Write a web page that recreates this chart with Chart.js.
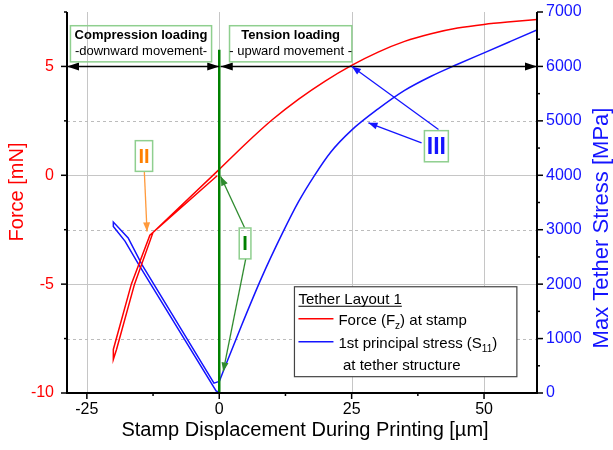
<!DOCTYPE html>
<html>
<head>
<meta charset="utf-8">
<script src="https://cdn.jsdelivr.net/npm/chart.js@4.4.0/dist/chart.umd.min.js"></script>
<style>
  body { margin: 0; background: #fff; }
  canvas { display: block; }
</style>
</head>
<body>
<canvas id="canvas" width="613" height="450" style="width:613px;height:450px"></canvas>
<script>
// force at stamp [mN] - compression loop (down and back), then tension branch
var forceLoopX = [-0.4, -13.1, -16.6, -20, -20, -19.4, -16.0, -12.5, 0];
var forceLoopY = [-0.02, -2.75, -5, -8.0, -8.46, -8.0, -5, -2.62, 0.27];
var forceTailX = [0, 5, 10, 15, 20, 25, 30, 35, 40, 45, 50, 55, 60];
var forceTailY = [0.27, 1.45, 2.55, 3.5, 4.33, 5.05, 5.66, 6.15, 6.5, 6.76, 6.93, 7.05, 7.15];

// max tether stress [MPa]
var stressLoopX = [0, -0.6, -15.2, -17.8, -20, -20, -17.2, -14.6, -1.0, 0];
var stressLoopY = [10, 40, 2360, 2790, 3060, 3140, 2850, 2360, 180, 213];
var stressTailX = [0, 4, 8, 12, 15, 18, 21, 25, 30, 35, 40, 45, 50, 55, 60];
var stressTailY = [213, 1190, 2120, 2950, 3520, 4000, 4420, 4830, 5220, 5560, 5820, 6040, 6250, 6460, 6670];

// axis ticks
var xMajorTicks = [-25, 0, 25, 50];
var xMinorTicks = [-12.5, 12.5, 37.5];
var forceMajorTicks = [-10, -5, 0, 5];
var forceMinorTicks = [-7.5, -2.5, 2.5, 7.5];
var stressMajorTicks = [0, 1000, 2000, 3000, 4000, 5000, 6000, 7000];
var stressMinorTicks = [500, 1500, 2500, 3500, 4500, 5500, 6500];

var RED = '#ff0000';
var BLUE = '#1414ff';
var GREEN = '#008000';
var FONT = '"Liberation Sans", Arial, sans-serif';

function pts(xs, ys) {
  return xs.map(function(x, i) { return { x: x, y: ys[i] }; });
}

function setTicks(list) {
  return function(scale) {
    scale.ticks = list.map(function(v) { return { value: v }; });
  };
}

// fixed axis band sizes, no extra room for label overhang
function fixSize(w, h) {
  return function(s) {
    if (w) s.width = w;
    if (h) s.height = h;
    s.paddingTop = 0; s.paddingBottom = 0;
    s.paddingLeft = 0; s.paddingRight = 0;
  };
}

function arrowHead(ctx, x1, y1, x2, y2, len, half, color) {
  var a = Math.atan2(y2 - y1, x2 - x1);
  var bx = x2 - len * Math.cos(a), by = y2 - len * Math.sin(a);
  ctx.beginPath();
  ctx.moveTo(x2, y2);
  ctx.lineTo(bx + half * Math.sin(a), by - half * Math.cos(a));
  ctx.lineTo(bx - half * Math.sin(a), by + half * Math.cos(a));
  ctx.closePath();
  ctx.fillStyle = color;
  ctx.fill();
}

function arrow(ctx, x1, y1, x2, y2, color, width, len, half, both) {
  ctx.strokeStyle = color;
  ctx.lineWidth = width;
  ctx.beginPath();
  ctx.moveTo(x1, y1);
  ctx.lineTo(x2, y2);
  ctx.stroke();
  arrowHead(ctx, x1, y1, x2, y2, len, half, color);
  if (both) arrowHead(ctx, x2, y2, x1, y1, len, half, color);
}

function richText(ctx, x, y, parts, size) {
  // parts: [text, isSub]
  var cx = x;
  parts.forEach(function(p) {
    ctx.font = (p[1] ? Math.round(size * 0.65) : size) + 'px ' + FONT;
    ctx.fillText(p[0], cx, p[1] ? y + 4 : y);
    cx += ctx.measureText(p[0]).width;
  });
}

function drawGrid(chart) {
  var ctx = chart.ctx, a = chart.chartArea, sx = chart.scales.x, sy = chart.scales.y;
  ctx.save();
  ctx.lineWidth = 1;
  ctx.strokeStyle = '#c6c6c6';
  xMajorTicks.forEach(function(v) {
    var p = Math.round(sx.getPixelForValue(v)) + 0.5;
    ctx.beginPath(); ctx.moveTo(p, a.top); ctx.lineTo(p, a.bottom); ctx.stroke();
  });
  forceMajorTicks.forEach(function(v) {
    if (v <= sy.min) return;
    var p = Math.round(sy.getPixelForValue(v)) + 0.5;
    ctx.beginPath(); ctx.moveTo(a.left, p); ctx.lineTo(a.right, p); ctx.stroke();
  });
  ctx.setLineDash([3, 3]);
  ctx.strokeStyle = '#bcbcbc';
  forceMinorTicks.forEach(function(v) {
    if (v >= sy.max) return;
    var p = Math.round(sy.getPixelForValue(v)) + 0.5;
    ctx.beginPath(); ctx.moveTo(a.left, p); ctx.lineTo(a.right, p); ctx.stroke();
  });
  ctx.restore();
}

function drawAxes(chart) {
  var ctx = chart.ctx, a = chart.chartArea;
  var sx = chart.scales.x, sy = chart.scales.y, s1 = chart.scales.y1;
  ctx.save();
  ctx.strokeStyle = '#000';
  ctx.lineWidth = 2;
  ctx.beginPath();
  ctx.moveTo(a.left, a.top);
  ctx.lineTo(a.left, a.bottom);
  ctx.lineTo(a.right, a.bottom);
  ctx.lineTo(a.right, a.top);
  ctx.stroke();
  ctx.lineWidth = 1.5;
  function tick(x1, y1, x2, y2) {
    ctx.beginPath(); ctx.moveTo(x1, y1); ctx.lineTo(x2, y2); ctx.stroke();
  }
  xMajorTicks.forEach(function(v) { var p = sx.getPixelForValue(v); tick(p, a.bottom, p, a.bottom + 6); });
  xMinorTicks.forEach(function(v) { var p = sx.getPixelForValue(v); tick(p, a.bottom, p, a.bottom + 3); });
  forceMajorTicks.forEach(function(v) { var p = sy.getPixelForValue(v); tick(a.left, p, a.left - 6, p); });
  forceMinorTicks.forEach(function(v) { var p = sy.getPixelForValue(v); tick(a.left, p, a.left - 3, p); });
  stressMajorTicks.forEach(function(v) { var p = s1.getPixelForValue(v); tick(a.right, p, a.right + 6, p); });
  stressMinorTicks.forEach(function(v) { var p = s1.getPixelForValue(v); tick(a.right, p, a.right + 3, p); });
  ctx.restore();
}

function drawNotes(chart) {
  var ctx = chart.ctx, a = chart.chartArea, sx = chart.scales.x, sy = chart.scales.y;
  function X(v) { return sx.getPixelForValue(v); }
  function Y(v) { return sy.getPixelForValue(v); }
  ctx.save();

  // stamp turning point
  ctx.strokeStyle = GREEN;
  ctx.lineWidth = 2.5;
  ctx.beginPath();
  ctx.moveTo(X(0), a.bottom);
  ctx.lineTo(X(0), Y(5.77));
  ctx.stroke();

  // movement arrows at 5 mN
  arrow(ctx, a.left, Y(5), X(0), Y(5), '#000', 1.5, 12, 4, true);
  arrow(ctx, X(0) + 1.5, Y(5), a.right, Y(5), '#000', 1.5, 12, 4, true);

  // text boxes
  function box(x0, x1, y0, y1) {
    ctx.strokeStyle = '#8fcf8f';
    ctx.lineWidth = 1.5;
    ctx.strokeRect(X(x0), Y(y0), X(x1) - X(x0), Y(y1) - Y(y0));
  }
  ctx.textAlign = 'center';
  ctx.textBaseline = 'middle';

  box(-28.1, -1.45, 6.87, 5.21);
  ctx.fillStyle = '#000';
  ctx.font = 'bold 13px ' + FONT;
  ctx.fillText('Compression loading', (X(-28.1) + X(-1.45)) / 2, Y(6.41));
  ctx.font = '13px ' + FONT;
  ctx.fillText('-downward movement-', (X(-28.1) + X(-1.45)) / 2, Y(5.67));

  box(1.94, 25.04, 6.87, 5.21);
  ctx.fillStyle = '#000';
  ctx.font = 'bold 13px ' + FONT;
  ctx.fillText('Tension loading', (X(1.94) + X(25.04)) / 2, Y(6.41));
  ctx.font = '13px ' + FONT;
  ctx.fillText('- upward movement -', (X(1.94) + X(25.04)) / 2, Y(5.67));

  // II
  arrow(ctx, X(-14.15), Y(0.18), X(-13.64), Y(-2.58), '#ff9a3c', 1.3, 9, 3.5, false);
  box(-15.85, -12.58, 1.59, 0.18);
  ctx.fillStyle = '#ff8000';
  ctx.font = 'bold 20px ' + FONT;
  ctx.fillText('II', (X(-15.85) + X(-12.58)) / 2, (Y(1.59) + Y(0.18)) / 2 + 1);

  // I
  arrow(ctx, X(4.81), Y(-2.42), X(0.28), Y(-0.06), '#2e8b2e', 1.3, 9, 3.5, false);
  arrow(ctx, X(5.0), Y(-3.84), X(0.75), Y(-9.01), '#2e8b2e', 1.3, 9, 3.5, false);
  box(3.77, 5.98, -2.42, -3.84);
  ctx.fillStyle = GREEN;
  ctx.font = 'bold 20px ' + FONT;
  ctx.fillText('I', (X(3.77) + X(5.98)) / 2, (Y(-2.42) + Y(-3.84)) / 2 + 1);

  // III
  arrow(ctx, X(41.4), Y(2.1), X(25.04), Y(5.0), BLUE, 1.3, 9, 3.5, false);
  arrow(ctx, X(38.2), Y(1.49), X(28.17), Y(2.41), BLUE, 1.3, 9, 3.5, false);
  box(38.74, 43.26, 2.05, 0.62);
  ctx.fillStyle = BLUE;
  ctx.font = 'bold 23px ' + FONT;
  ctx.fillText('III', (X(38.74) + X(43.26)) / 2, (Y(2.05) + Y(0.62)) / 2 + 1);

  ctx.restore();
}

function drawKey(chart) {
  var ctx = chart.ctx, sx = chart.scales.x, sy = chart.scales.y;
  var lx = sx.getPixelForValue(14.2), ly = sy.getPixelForValue(-5.12);
  var rx = sx.getPixelForValue(56.2), ry = sy.getPixelForValue(-9.25);
  ctx.save();
  ctx.fillStyle = '#fff';
  ctx.fillRect(lx, ly, rx - lx, ry - ly);
  ctx.strokeStyle = '#444';
  ctx.lineWidth = 1.2;
  ctx.strokeRect(lx, ly, rx - lx, ry - ly);

  ctx.fillStyle = '#000';
  ctx.textAlign = 'left';
  ctx.textBaseline = 'alphabetic';
  ctx.font = '15px ' + FONT;
  ctx.fillText('Tether Layout 1', lx + 4, ly + 17);
  var tw = ctx.measureText('Tether Layout 1').width;
  ctx.strokeStyle = '#000';
  ctx.lineWidth = 1;
  ctx.beginPath();
  ctx.moveTo(lx + 4, ly + 19.5);
  ctx.lineTo(lx + 4 + tw, ly + 19.5);
  ctx.stroke();

  ctx.lineWidth = 1.5;
  ctx.strokeStyle = RED;
  ctx.beginPath(); ctx.moveTo(lx + 4, ly + 32); ctx.lineTo(lx + 39, ly + 32); ctx.stroke();
  ctx.strokeStyle = BLUE;
  ctx.beginPath(); ctx.moveTo(lx + 4, ly + 55); ctx.lineTo(lx + 39, ly + 55); ctx.stroke();

  ctx.fillStyle = '#000';
  richText(ctx, lx + 44, ly + 38, [['Force (F', false], ['z', true], [') at stamp', false]], 15);
  richText(ctx, lx + 44, ly + 61, [['1st principal stress (S', false], ['11', true], [')', false]], 15);
  richText(ctx, lx + 48.5, ly + 83.5, [['at tether structure', false]], 15);
  ctx.restore();
}

function drawTitles(chart) {
  var ctx = chart.ctx;
  ctx.save();
  ctx.textAlign = 'center';
  ctx.textBaseline = 'middle';

  ctx.font = '20px ' + FONT;
  ctx.fillStyle = RED;
  ctx.save(); ctx.translate(17, 192); ctx.rotate(-Math.PI / 2);
  ctx.fillText('Force [mN]', 0, 0); ctx.restore();

  ctx.font = '22px ' + FONT;
  ctx.fillStyle = BLUE;
  ctx.save(); ctx.translate(602, 228); ctx.rotate(-Math.PI / 2);
  ctx.fillText('Max Tether Stress [MPa]', 0, 0); ctx.restore();

  ctx.font = '20px ' + FONT;
  ctx.fillStyle = '#000';
  ctx.fillText('Stamp Displacement During Printing [\u00b5m]', 305, 430);
  ctx.restore();
}

var sketchPlugin = {
  id: 'sketch',
  beforeDatasetsDraw: function(chart) { drawGrid(chart); },
  afterDatasetsDraw: function(chart) {
    drawNotes(chart);
    drawKey(chart);
    drawAxes(chart);
    drawTitles(chart);
  }
};

function line(data, color, axis, smooth) {
  return {
    data: data,
    yAxisID: axis,
    showLine: true,
    borderColor: color,
    backgroundColor: color,
    borderWidth: 1.5,
    pointRadius: 0,
    fill: false,
    tension: 0,
    cubicInterpolationMode: smooth ? 'monotone' : 'default'
  };
}

var config = {
  type: 'scatter',
  data: {
    datasets: [
      line(pts(forceLoopX, forceLoopY), RED, 'y', false),
      line(pts(forceTailX, forceTailY), RED, 'y', true),
      line(pts(stressLoopX, stressLoopY), BLUE, 'y1', false),
      line(pts(stressTailX, stressTailY), BLUE, 'y1', true)
    ]
  },
  options: {
    responsive: false,
    animation: false,
    layout: { padding: { top: 12, left: 0, right: 0, bottom: 0 } },
    plugins: {
      legend: { display: false },
      tooltip: { enabled: false }
    },
    scales: {
      x: {
        type: 'linear',
        min: -28.75,
        max: 60,
        afterBuildTicks: setTicks(xMajorTicks),
        afterFit: fixSize(0, 57),
        grid: { display: false, drawTicks: false },
        border: { display: false },
        ticks: {
          autoSkip: false, maxRotation: 0, padding: 7, color: '#000',
          font: { family: FONT, size: 16 },
          callback: function(v) { return String(v); }
        }
      },
      y: {
        type: 'linear',
        position: 'left',
        min: -10,
        max: 7.5,
        afterBuildTicks: setTicks(forceMajorTicks),
        afterFit: fixSize(67, 0),
        grid: { display: false, drawTicks: false },
        border: { display: false },
        ticks: {
          autoSkip: false, padding: 13, color: RED,
          font: { family: FONT, size: 16 },
          callback: function(v) { return String(v); }
        }
      },
      y1: {
        type: 'linear',
        position: 'right',
        min: 0,
        max: 7000,
        afterBuildTicks: setTicks(stressMajorTicks),
        afterFit: fixSize(76, 0),
        grid: { display: false, drawTicks: false },
        border: { display: false },
        ticks: {
          autoSkip: false, padding: 9, color: BLUE,
          font: { family: FONT, size: 16 },
          callback: function(v) { return String(v); }
        }
      }
    }
  },
  plugins: [sketchPlugin]
};

window.onload = function() {
  var ctx = document.getElementById('canvas').getContext('2d');
  window.myChart = new Chart(ctx, config);
};
</script>
</body>
</html>
